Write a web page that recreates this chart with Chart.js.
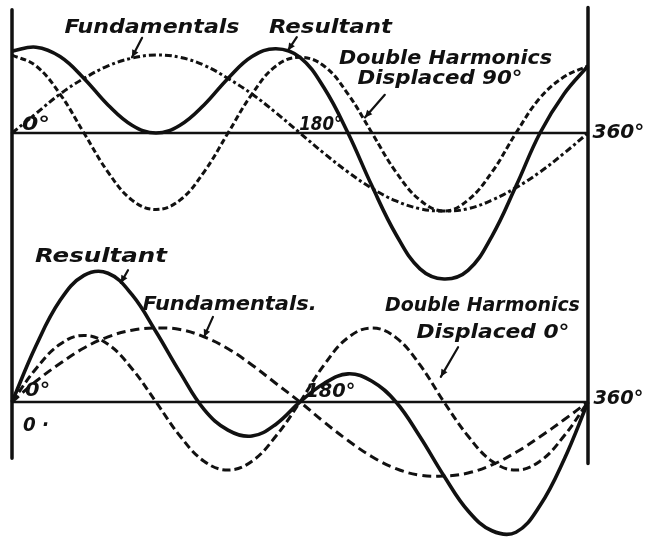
<!DOCTYPE html>
<html>
<head>
<meta charset="utf-8">
<script src="https://cdn.jsdelivr.net/npm/chart.js@4.4.1/dist/chart.umd.min.js"></script>
<style>
  html, body { margin: 0; padding: 0; background: #fff; }
  #wrap { position: relative; width: 652px; height: 538px; }
</style>
</head>
<body>
<div id="wrap"><canvas id="waves" width="652" height="538"></canvas></div>
<script>
// Angle samples (degrees)
const angles = [0, 15, 30, 45, 60, 75, 90, 105, 120, 135, 150, 165, 180,
                195, 210, 225, 240, 255, 270, 285, 300, 315, 330, 345, 360];

// Upper figure: double harmonic displaced 90 degrees
const topFundamental = [0, 0.25, 0.5, 0.7, 0.86, 0.96, 1.0, 0.97, 0.87, 0.7, 0.5, 0.26, 0,
                        -0.26, -0.5, -0.71, -0.87, -0.97, -1.0, -0.97, -0.86, -0.7, -0.5, -0.26, 0];
const topHarmonic = [1.0, 0.86, 0.5, 0, -0.5, -0.86, -0.98, -0.86, -0.5, 0, 0.5, 0.86, 0.97,
                     0.86, 0.5, 0, -0.5, -0.86, -1.0, -0.86, -0.5, 0, 0.45, 0.72, 0.86];
const topResultant = [1.05, 1.1, 0.98, 0.7, 0.36, 0.1, 0, 0.1, 0.36, 0.7, 0.98, 1.08, 0.97,
                      0.58, 0, -0.68, -1.3, -1.74, -1.87, -1.76, -1.32, -0.68, 0, 0.5, 0.86];

// Lower figure: double harmonic displaced 0 degrees
const bottomFundamental = [0, 0.28, 0.52, 0.73, 0.88, 0.97, 1.0, 0.98, 0.88, 0.72, 0.5, 0.25, 0,
                           -0.27, -0.52, -0.74, -0.9, -0.99, -1.0, -0.96, -0.85, -0.68, -0.47, -0.24, 0];
const bottomHarmonic = [0, 0.45, 0.78, 0.9, 0.78, 0.45, 0, -0.46, -0.8, -0.92, -0.8, -0.46, 0,
                        0.5, 0.87, 1.0, 0.87, 0.5, 0, -0.46, -0.8, -0.92, -0.8, -0.46, 0];
const bottomResultant = [0, 0.76, 1.37, 1.71, 1.74, 1.45, 0.95, 0.4, -0.1, -0.38, -0.46, -0.3, 0,
                         0.25, 0.38, 0.28, 0, -0.47, -1.0, -1.47, -1.74, -1.76, -1.4, -0.78, 0];

// Lettering: [text, angle, value, panel, width]
const labels = [
    ['Fundamentals', 87.5, 1.35, 'yTop', 175],
    ['Resultant', 199, 1.35, 'yTop', 123],
    ['Double Harmonics', 271, 0.95, 'yTop', 213],
    ['Displaced 90°', 267.5, 0.69, 'yTop', 165],
    ['0°', 15, 0.1, 'yTop', 28],
    ['180°', 193, 0.1, 'yTop', 43],
    ['360°', 379, 0, 'yTop', 52],
    ['Resultant', 55.6, 1.96, 'yBot', 132],
    ['Fundamentals.', 136, 1.31, 'yBot', 174],
    ['Double Harmonics', 294, 1.3, 'yBot', 195],
    ['Displaced 0°', 300.6, 0.93, 'yBot', 153],
    ['0°', 16, 0.15, 'yBot', 25],
    ['180°', 199, 0.14, 'yBot', 50],
    ['360°', 379, 0.04, 'yBot', 50],
    ['0 ·', 15, -0.32, 'yBot', 26]
];

// Pointer arrows: [fromAngle, fromValue, toAngle, toValue, panel]
const arrows = [
    [81.3, 1.22, 75, 0.97, 'yTop'],
    [178, 1.23, 172.5, 1.06, 'yTop'],
    [233, 0.49, 220.6, 0.2, 'yTop'],
    [72.5, 1.78, 68, 1.61, 'yBot'],
    [125.6, 1.15, 120, 0.88, 'yBot'],
    [278.8, 0.74, 268, 0.34, 'yBot']
];

const INK = '#111';

function pts(arr) {
    return angles.map((a, i) => ({ x: a, y: arr[i] }));
}

function line(data, axis, width, dash) {
    return {
        data: pts(data),
        yAxisID: axis,
        borderColor: INK,
        borderWidth: width,
        borderDash: dash,
        pointRadius: 0,
        tension: 0.4,
        fill: false,
        clip: false
    };
}

// Axes, frame, lettering and arrows
const figurePlugin = {
    id: 'figure',
    beforeDraw(chart) {
        const c = chart.ctx;
        c.save();
        c.fillStyle = '#fff';
        c.fillRect(0, 0, chart.width, chart.height);
        c.restore();
    },
    beforeDatasetsDraw(chart) {
        const c = chart.ctx;
        const xs = chart.scales.x;
        const yt = chart.scales.yTop;
        const yb = chart.scales.yBot;
        const x0 = xs.getPixelForValue(0);
        const x1 = xs.getPixelForValue(360);
        c.save();
        c.strokeStyle = INK;
        c.lineCap = 'round';
        // zero lines
        c.lineWidth = 2.5;
        [yt, yb].forEach(s => {
            const y = s.getPixelForValue(0);
            c.beginPath();
            c.moveTo(x0, y);
            c.lineTo(x1, y);
            c.stroke();
        });
        // the two verticals at 0 and 360 degrees
        c.lineWidth = 3.5;
        c.beginPath();
        c.moveTo(x0, yt.getPixelForValue(1.58));
        c.lineTo(x0, yb.getPixelForValue(-0.76));
        c.moveTo(x1, yt.getPixelForValue(1.61));
        c.lineTo(x1, yb.getPixelForValue(-0.83));
        c.stroke();
        c.restore();
    },
    afterDatasetsDraw(chart) {
        const c = chart.ctx;
        const xs = chart.scales.x;
        c.save();
        c.fillStyle = INK;
        c.strokeStyle = INK;
        c.font = 'italic bold 20px "DejaVu Sans"';
        c.textAlign = 'center';
        c.textBaseline = 'middle';
        labels.forEach(([text, a, v, axis, w]) => {
            const px = xs.getPixelForValue(a);
            const py = chart.scales[axis].getPixelForValue(v);
            const m = c.measureText(text).width;
            c.save();
            c.translate(px, py);
            c.scale(w / m, 1);
            c.fillText(text, 0, 0);
            c.restore();
        });

        c.lineWidth = 2.2;
        c.lineCap = 'round';
        arrows.forEach(([a0, v0, a1, v1, axis]) => {
            const s = chart.scales[axis];
            const xA = xs.getPixelForValue(a0), yA = s.getPixelForValue(v0);
            const xB = xs.getPixelForValue(a1), yB = s.getPixelForValue(v1);
            const ang = Math.atan2(yB - yA, xB - xA);
            c.beginPath();
            c.moveTo(xA, yA);
            c.lineTo(xB, yB);
            c.stroke();
            c.beginPath();
            c.moveTo(xB, yB);
            c.lineTo(xB - 8 * Math.cos(ang - 0.45), yB - 8 * Math.sin(ang - 0.45));
            c.lineTo(xB - 8 * Math.cos(ang + 0.45), yB - 8 * Math.sin(ang + 0.45));
            c.closePath();
            c.fill();
        });
        c.restore();
    }
};

new Chart(document.getElementById('waves'), {
    type: 'line',
    data: {
        datasets: [
            line(topFundamental, 'yTop', 3, [7, 3, 3, 3]),
            line(topHarmonic, 'yTop', 3, [6, 3]),
            line(topResultant, 'yTop', 3.6, []),
            line(bottomFundamental, 'yBot', 3, [9, 5]),
            line(bottomHarmonic, 'yBot', 3, [8, 4]),
            line(bottomResultant, 'yBot', 3.6, [])
        ]
    },
    options: {
        responsive: false,
        animation: false,
        layout: { padding: { left: 12, right: 64, top: 0, bottom: 0 } },
        plugins: {
            legend: { display: false },
            tooltip: { enabled: false }
        },
        scales: {
            x: { type: 'linear', min: 0, max: 360, display: false },
            yTop: { type: 'linear', min: -5.19, max: 1.705, display: false },
            yBot: { type: 'linear', min: -1.838, max: 5.432, display: false }
        }
    },
    plugins: [figurePlugin]
});
</script>
</body>
</html>
